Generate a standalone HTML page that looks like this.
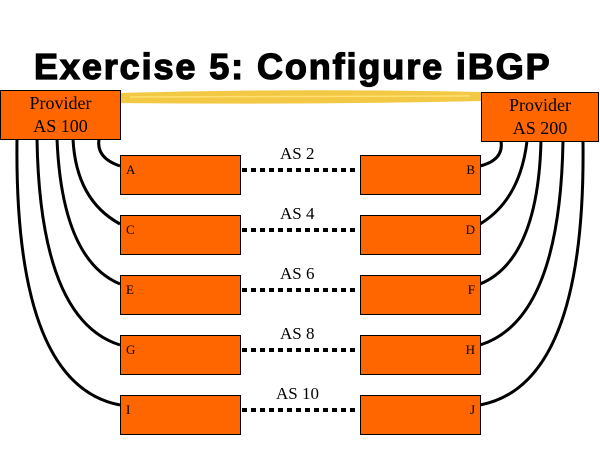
<!DOCTYPE html>
<html><head><style>
body{margin:0;width:600px;height:450px;background:#fff;position:relative;overflow:hidden;font-family:"Liberation Serif",serif}
.t{position:absolute;left:34px;top:46px;font:bold 36px "Liberation Sans",sans-serif;letter-spacing:1.9px;color:#000;-webkit-text-stroke:1.3px #000}
.b{position:absolute;background:#ff6600;border:1px solid #000;box-sizing:border-box;font-size:13px}
.p{font-size:18px;text-align:center;line-height:23px;padding-top:1px}
.l{position:absolute;font-size:17px}
</style></head><body>
<div class="t">Exercise 5: Configure iBGP</div>
<svg width="600" height="450" style="position:absolute;left:0;top:0">
<path d="M118 93 Q300 88 482 92 L482 101 Q300 105 118 103Z" fill="#f2c230" opacity="0.9"/>
<path d="M130 97 L470 96" stroke="#ffe070" stroke-width="1.5"/>
<g fill="none" stroke="#000" stroke-width="3">
<path d="M99 139 Q96 158 120 166"/>
<path d="M73 139 Q76 200 120 224"/>
<path d="M57 139 Q62 260 120 284"/>
<path d="M37 139 Q40 320 120 345"/>
<path d="M17 139 Q14 385 120 405"/>
<path d="M501 141 Q504 160 480 166"/>
<path d="M527 141 Q520 200 480 224"/>
<path d="M541 141 Q538 260 480 284"/>
<path d="M563 141 Q560 320 480 345"/>
<path d="M583 141 Q586 385 480 405"/>
</g>
<g stroke="#000" stroke-width="4" stroke-dasharray="5 4">
<path d="M242 170 H358"/><path d="M242 230 H358"/><path d="M242 290 H358"/><path d="M242 350 H358"/><path d="M242 410 H358"/>
</g>
</svg>
<div class="b p" style="left:0;top:90px;width:121px;height:50px">Provider<br>AS 100</div>
<div class="b p" style="left:481px;top:92px;width:118px;height:50px">Provider<br>AS 200</div>
<div class="b" style="left:120px;top:155px;width:121px;height:40px;padding:6px 5px">A</div>
<div class="b" style="left:120px;top:215px;width:121px;height:40px;padding:6px 5px">C</div>
<div class="b" style="left:120px;top:275px;width:121px;height:40px;padding:6px 5px">E</div>
<div class="b" style="left:120px;top:335px;width:121px;height:40px;padding:6px 5px">G</div>
<div class="b" style="left:120px;top:395px;width:121px;height:40px;padding:6px 5px">I</div>
<div class="b" style="left:360px;top:155px;width:121px;height:40px;padding:6px 5px;text-align:right">B</div>
<div class="b" style="left:360px;top:215px;width:121px;height:40px;padding:6px 5px;text-align:right">D</div>
<div class="b" style="left:360px;top:275px;width:121px;height:40px;padding:6px 5px;text-align:right">F</div>
<div class="b" style="left:360px;top:335px;width:121px;height:40px;padding:6px 5px;text-align:right">H</div>
<div class="b" style="left:360px;top:395px;width:121px;height:40px;padding:6px 5px;text-align:right">J</div>
<div class="l" style="left:280px;top:144px">AS 2</div>
<div class="l" style="left:280px;top:204px">AS 4</div>
<div class="l" style="left:280px;top:264px">AS 6</div>
<div class="l" style="left:280px;top:324px">AS 8</div>
<div class="l" style="left:276px;top:384px">AS 10</div>
</body></html>
